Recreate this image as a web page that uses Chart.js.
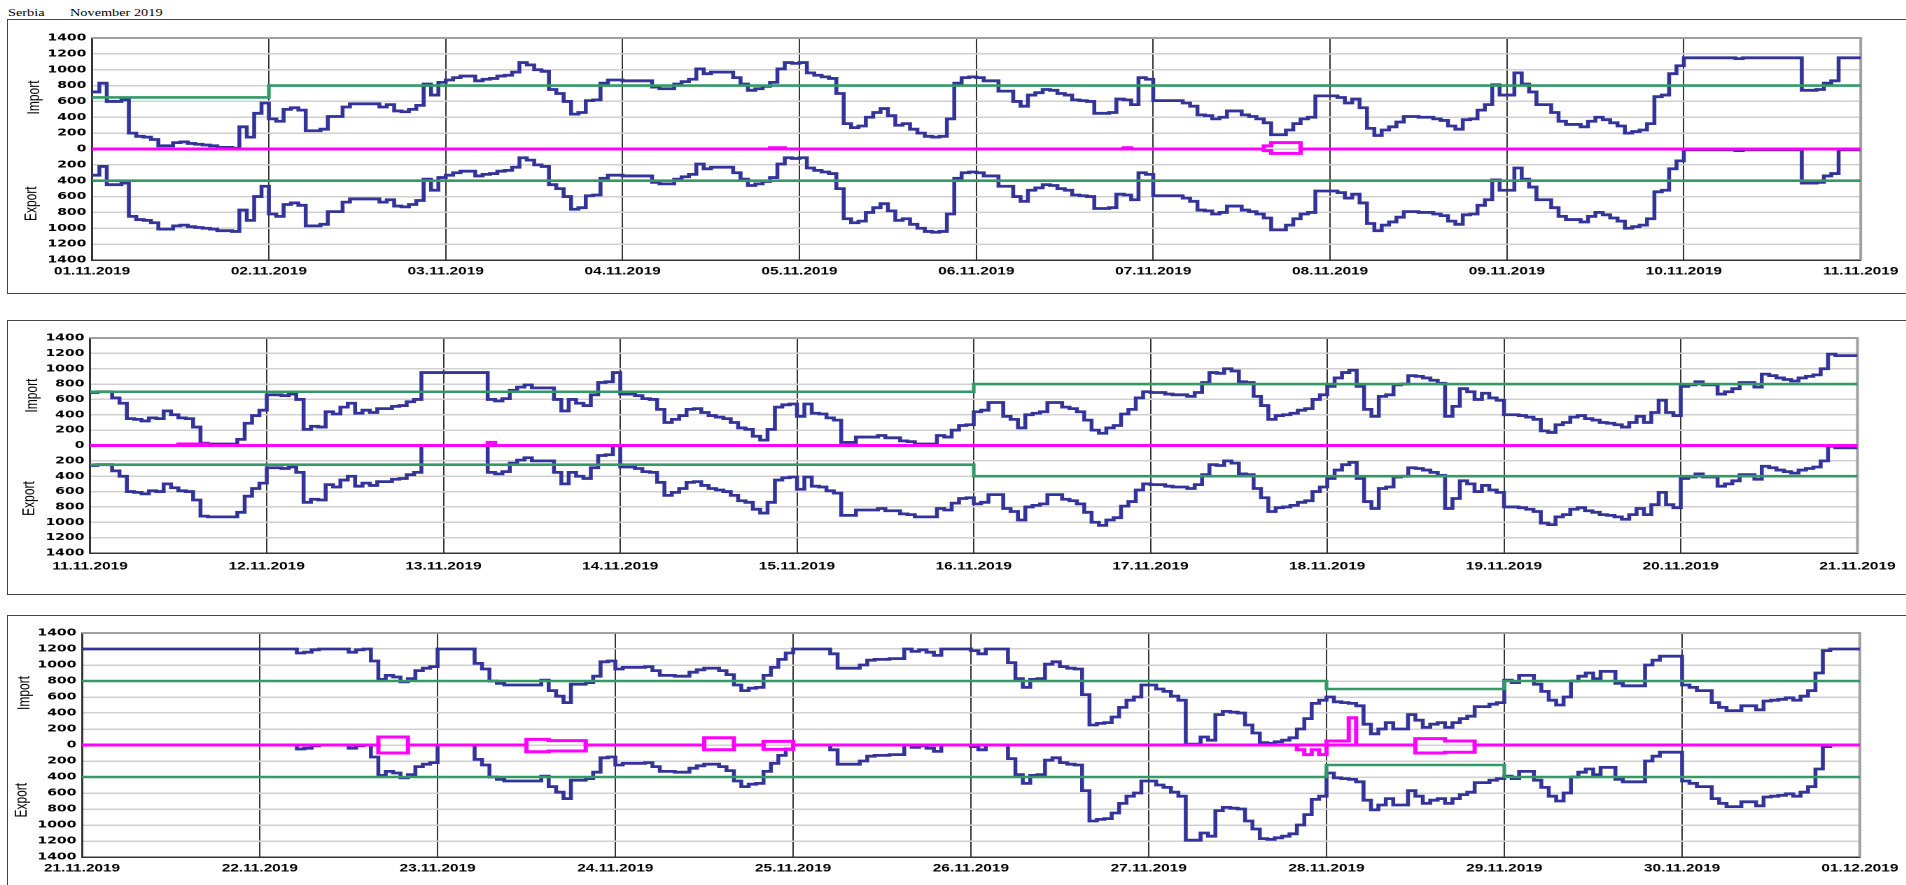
<!DOCTYPE html>
<html>
<head>
<meta charset="utf-8">
<script src="https://cdn.jsdelivr.net/npm/chart.js@4.4.0/dist/chart.umd.min.js"></script>
<style>
body{margin:0;background:#fff;overflow:hidden;width:1906px;height:885px;position:relative}
.box{position:absolute;left:7px;width:1910px;height:273px;border:1px solid #444}
.wrap{position:absolute;left:0;transform-origin:0 0}
.hdr{position:absolute;top:6px;font:11px "Liberation Serif",serif;transform-origin:0 0;transform:scaleX(1.3);white-space:nowrap}
</style>
</head>
<body>
<div class="hdr" style="left:8px">Serbia</div>
<div class="hdr" style="left:70px">November 2019</div>
<div class="box" style="top:19px"></div>
<div class="box" style="top:320px"></div>
<div class="box" style="top:615px"></div>
<div class="wrap" id="w1"><canvas id="c1"></canvas></div>
<div class="wrap" id="w2"><canvas id="c2"></canvas></div>
<div class="wrap" id="w3"><canvas id="c3"></canvas></div>
<script>
// tick labels (one per day boundary)
const days1 = ['01.11.2019','02.11.2019','03.11.2019','04.11.2019','05.11.2019','06.11.2019','07.11.2019','08.11.2019','09.11.2019','10.11.2019','11.11.2019'];
const days2 = ['11.11.2019','12.11.2019','13.11.2019','14.11.2019','15.11.2019','16.11.2019','17.11.2019','18.11.2019','19.11.2019','20.11.2019','21.11.2019'];
const days3 = ['21.11.2019','22.11.2019','23.11.2019','24.11.2019','25.11.2019','26.11.2019','27.11.2019','28.11.2019','29.11.2019','30.11.2019','01.12.2019'];

// hourly import (MW), 24 values per day
const imp1 = [
720,830,600,600,620,200,160,150,120,40,40,80,90,70,60,50,40,20,20,10,280,150,450,580,
380,350,500,520,490,230,230,250,410,410,530,570,570,570,570,530,560,480,470,500,550,820,680,840,
870,900,920,920,860,880,890,920,930,970,1090,1060,1000,980,750,700,600,440,460,610,620,830,870,870,
860,860,860,860,780,760,760,820,850,880,1010,950,970,970,970,900,820,740,760,790,840,1010,1090,1080,
1090,960,930,910,890,700,320,270,290,400,460,510,420,300,320,250,200,160,150,160,380,830,900,910,
900,860,860,730,730,600,540,680,710,750,740,700,680,620,610,600,450,450,460,630,620,560,900,880,
610,610,610,610,580,540,430,420,380,400,480,480,430,410,380,330,180,180,240,320,380,400,670,670,
670,650,580,630,520,260,170,240,280,340,410,410,400,400,380,360,290,250,370,380,490,560,810,680,
680,960,820,720,560,560,460,350,310,310,280,350,400,370,330,290,200,220,240,320,660,680,950,1050,
1150,1150,1150,1150,1150,1150,1150,1140,1150,1150,1150,1150,1150,1150,1150,1150,740,740,750,830,860,1150,1150,1150];
// hourly export (MW, drawn below zero)
const exp1 = [
-330,-220,-450,-450,-430,-850,-890,-900,-930,-1010,-1010,-970,-960,-980,-990,-1000,-1010,-1030,-1030,-1040,-770,-900,-600,-470,
-820,-850,-700,-680,-710,-970,-970,-950,-790,-790,-670,-630,-630,-630,-630,-670,-640,-720,-730,-700,-650,-380,-520,-360,
-330,-300,-280,-280,-340,-320,-310,-280,-270,-230,-110,-140,-200,-220,-450,-500,-600,-760,-740,-590,-580,-370,-330,-330,
-340,-340,-340,-340,-420,-440,-440,-380,-350,-320,-190,-250,-230,-230,-230,-300,-380,-460,-440,-410,-360,-190,-110,-120,
-110,-240,-270,-290,-310,-500,-880,-930,-910,-800,-740,-690,-780,-900,-880,-950,-1000,-1040,-1050,-1040,-820,-370,-300,-290,
-300,-340,-340,-470,-470,-600,-660,-520,-490,-450,-460,-500,-520,-580,-590,-600,-750,-750,-740,-570,-580,-640,-300,-320,
-590,-590,-590,-590,-620,-660,-770,-780,-820,-800,-720,-720,-770,-790,-820,-870,-1020,-1020,-960,-880,-820,-800,-530,-530,
-530,-550,-620,-570,-680,-940,-1030,-960,-920,-860,-790,-790,-800,-800,-820,-840,-910,-950,-830,-820,-710,-640,-390,-520,
-520,-240,-380,-480,-640,-640,-740,-850,-890,-890,-920,-850,-800,-830,-870,-910,-1000,-980,-960,-880,-540,-520,-250,-150,
-10,-10,-10,-10,-10,-10,-10,-20,-10,-10,-10,-10,-10,-10,-10,-10,-430,-430,-420,-340,-310,-10,-10,-10];

const imp2 = [
690,700,700,620,550,350,340,320,360,350,450,400,360,350,240,30,20,20,20,20,80,290,390,460,
660,660,650,670,600,210,250,240,440,410,500,550,420,460,430,480,480,510,520,570,600,950,950,950,
950,950,950,950,950,950,600,580,610,720,760,790,750,750,750,600,450,600,550,520,660,820,830,950,
670,670,650,610,600,470,300,340,390,470,480,430,390,370,350,300,230,210,120,70,210,500,530,540,
380,540,420,410,360,330,40,40,110,110,110,130,100,100,60,50,20,20,20,130,110,200,260,270,
440,460,560,560,380,340,230,400,420,440,560,560,500,480,440,330,200,160,230,260,410,470,620,700,
690,690,670,660,660,640,690,820,950,940,1000,970,830,820,640,520,340,390,400,420,460,480,600,660,
770,880,950,980,770,470,380,640,660,790,800,910,900,880,850,810,380,510,740,700,600,680,620,590,
400,400,390,370,340,190,170,270,300,370,390,350,330,300,290,270,240,300,380,300,430,590,430,390,
770,790,830,790,790,670,700,740,820,820,760,930,910,880,860,840,880,900,920,1000,1190,1170,1170,1170];
const exp2 = [
-260,-250,-250,-330,-400,-600,-610,-630,-590,-600,-500,-550,-590,-600,-710,-920,-930,-930,-930,-930,-870,-660,-560,-490,
-290,-290,-300,-280,-350,-740,-700,-710,-510,-540,-450,-400,-530,-490,-520,-470,-470,-440,-430,-380,-350,0,0,0,
0,0,0,0,0,0,-350,-370,-340,-230,-190,-160,-200,-200,-200,-350,-500,-350,-400,-430,-290,-130,-120,0,
-280,-280,-300,-340,-350,-480,-650,-610,-560,-480,-470,-520,-560,-580,-600,-650,-720,-740,-830,-880,-740,-450,-420,-410,
-570,-410,-530,-540,-590,-620,-910,-910,-840,-840,-840,-820,-850,-850,-890,-900,-930,-930,-930,-820,-840,-750,-690,-680,
-760,-740,-640,-640,-820,-860,-970,-800,-780,-760,-640,-640,-700,-720,-760,-870,-1000,-1040,-970,-940,-790,-730,-580,-500,
-510,-510,-530,-540,-540,-560,-510,-380,-250,-260,-200,-230,-370,-380,-560,-680,-860,-810,-800,-780,-740,-720,-600,-540,
-430,-320,-250,-220,-430,-730,-820,-560,-540,-410,-400,-290,-300,-320,-350,-390,-820,-690,-460,-500,-600,-520,-580,-610,
-800,-800,-810,-830,-860,-1010,-1030,-930,-900,-830,-810,-850,-870,-900,-910,-930,-960,-900,-820,-900,-770,-610,-770,-810,
-430,-410,-370,-410,-410,-530,-500,-460,-380,-380,-440,-270,-290,-320,-340,-360,-320,-300,-280,-200,-10,-30,-30,-30];

const imp3 = [
1200,1200,1200,1200,1200,1200,1200,1200,1200,1200,1200,1200,1200,1200,1200,1200,1200,1200,1200,1200,1200,1200,1200,1200,
1200,1200,1200,1200,1200,1150,1160,1190,1200,1200,1200,1200,1160,1190,1200,1050,820,870,850,790,830,930,960,980,
1200,1200,1200,1200,1200,1020,950,800,770,750,750,750,750,750,810,680,610,530,760,760,780,860,1040,1050,
950,970,970,970,980,930,870,870,860,860,910,940,960,960,930,880,750,680,710,720,870,970,1070,1150,
1200,1200,1200,1200,1200,1140,960,960,960,1000,1060,1070,1070,1080,1080,1200,1170,1190,1160,1120,1200,1200,1200,1200,
1180,1140,1200,1200,1200,1030,830,720,820,830,1010,1040,980,960,950,630,250,270,280,350,470,560,600,750,
750,700,670,610,560,10,10,100,60,380,420,410,400,250,150,30,20,40,60,90,200,330,520,560,
600,540,530,520,490,260,140,200,280,200,200,380,310,220,260,280,220,280,330,360,480,480,510,530,
810,780,870,870,760,670,560,500,600,800,860,900,830,920,920,770,740,740,740,1000,1060,1110,1110,1110,
750,720,680,680,530,470,430,430,490,490,440,550,560,570,590,560,610,680,900,1180,1200,1200,1200,1200];
const exp3 = [
0,0,0,0,0,0,0,0,0,0,0,0,0,0,0,0,0,0,0,0,0,0,0,0,
0,0,0,0,0,-50,-40,-10,0,0,0,0,-40,-10,0,-150,-380,-330,-350,-410,-370,-270,-240,-220,
0,0,0,0,0,-180,-250,-400,-430,-450,-450,-450,-450,-450,-390,-520,-590,-670,-440,-440,-420,-340,-160,-150,
-250,-230,-230,-230,-220,-270,-330,-330,-340,-340,-290,-260,-240,-240,-270,-320,-450,-520,-490,-480,-330,-230,-130,-50,
0,0,0,0,0,-60,-240,-240,-240,-200,-140,-130,-130,-120,-120,0,-30,-10,-40,-80,0,0,0,0,
-20,-60,0,0,0,-170,-370,-480,-380,-370,-190,-160,-220,-240,-250,-570,-950,-930,-920,-850,-730,-640,-600,-450,
-450,-500,-530,-590,-640,-1190,-1190,-1100,-1140,-820,-780,-790,-800,-950,-1050,-1170,-1180,-1160,-1140,-1110,-1000,-870,-680,-640,
-350,-410,-420,-430,-460,-690,-810,-750,-670,-750,-750,-570,-640,-730,-690,-670,-730,-670,-620,-590,-470,-470,-440,-420,
-390,-420,-330,-330,-440,-530,-640,-700,-600,-400,-340,-300,-370,-280,-280,-430,-460,-460,-460,-200,-140,-90,-90,-90,
-450,-480,-520,-520,-670,-730,-770,-770,-710,-710,-760,-650,-640,-630,-610,-640,-590,-520,-300,-20,0,0,0,0];

// daily capacity lines (green)
const ntcImp1 = [650,800,800,800,800,800,800,800,800,800];
const ntcExp1 = [-400,-400,-400,-400,-400,-400,-400,-400,-400,-400];
const ntcImp2 = [700,700,700,700,700,800,800,800,800,800];
const ntcExp2 = [-250,-250,-250,-250,-250,-400,-400,-400,-400,-400];
const ntcImp3 = [800,800,800,800,800,800,800,700,800,800];
const ntcExp3 = [-400,-400,-400,-400,-400,-400,-400,-250,-400,-400];

// magenta series, zero except these [hour, value] pairs
const magImp1 = [[92,15],[93,15],[140,15],[159,40],[160,80],[161,80],[162,80],[163,80]];
const magExp1 = [[159,-20],[160,-55],[161,-55],[162,-55],[163,-55]];
const magImp2 = [[12,20],[13,20],[14,20],[15,20],[54,40]];
const magExp2 = [];
const magImp3 = [[40,100],[41,100],[42,100],[43,100],[60,70],[61,70],[62,70],[63,55],[64,55],[65,55],[66,55],[67,55],
  [84,90],[85,90],[86,90],[87,90],[92,45],[93,45],[94,45],[95,45],[168,50],[169,50],[170,50],[171,340],
  [180,80],[181,80],[182,80],[183,80],[184,50],[185,50],[186,50],[187,50]];
const magExp3 = [[40,-100],[41,-100],[42,-100],[43,-100],[60,-85],[61,-85],[62,-85],[63,-75],[64,-75],[65,-75],[66,-75],[67,-75],
  [84,-60],[85,-60],[86,-60],[87,-60],[92,-55],[93,-55],[94,-55],[95,-55],[164,-60],[165,-120],[166,-60],[167,-120],
  [180,-100],[181,-100],[182,-100],[183,-100],[184,-90],[185,-90],[186,-90],[187,-90]];

const SX = 1.4;   // the picture is stretched sideways
const W = 1906, H = 274;

function hourly(arr) {
  const pts = arr.map((v, i) => ({x: i, y: v}));
  pts.push({x: arr.length, y: arr[arr.length - 1]});
  return pts;
}
function daily(arr) {
  const pts = arr.map((v, i) => ({x: i * 24, y: v}));
  pts.push({x: arr.length * 24, y: arr[arr.length - 1]});
  return pts;
}
function sparse(pairs) {
  const out = new Array(240).fill(0);
  pairs.forEach(p => { out[p[0]] = p[1]; });
  return hourly(out);
}

const frame = {
  id: 'frame',
  beforeDatasetsDraw(chart) {
    const {ctx, chartArea: a} = chart;
    ctx.save();
    ctx.strokeStyle = '#a0a0a0';
    ctx.lineWidth = 2;
    ctx.beginPath();
    ctx.moveTo(a.left, a.top);
    ctx.lineTo(a.right, a.top);
    ctx.lineTo(a.right, a.bottom);
    ctx.stroke();
    ctx.restore();
  },
  afterDraw(chart) {
    const {ctx, chartArea: a} = chart;
    const y = chart.scales.y;
    ctx.save();
    ctx.fillStyle = '#000';
    ctx.font = '12px "Liberation Sans"';
    ctx.textAlign = 'center';
    ctx.textBaseline = 'middle';
    [['Import', 650, 41], ['Export', -690, 43]].forEach(t => {
      ctx.save();
      ctx.translate(a.left - t[2], y.getPixelForValue(t[1]));
      ctx.rotate(-Math.PI / 2);
      ctx.fillText(t[0], 0, 0);
      ctx.restore();
    });
    ctx.restore();
  }
};

const panels = [
  {n: 1, top: 19, plotTop: 38, plotBottom: 260, left: 92, right: 1864, labPad: 5,
   labels: days1, imp: imp1, exp: exp1, ntcImp: ntcImp1, ntcExp: ntcExp1, magImp: magImp1, magExp: magExp1},
  {n: 2, top: 320, plotTop: 338, plotBottom: 553, left: 90, right: 1864, labPad: 7,
   labels: days2, imp: imp2, exp: exp2, ntcImp: ntcImp2, ntcExp: ntcExp2, magImp: magImp2, magExp: magExp2},
  {n: 3, top: 615, plotTop: 633, plotBottom: 857, left: 82, right: 1866, labPad: 5,
   labels: days3, imp: imp3, exp: exp3, ntcImp: ntcImp3, ntcExp: ntcExp3, magImp: magImp3, magExp: magExp3}
];

panels.forEach(p => {
  const wrap = document.getElementById('w' + p.n);
  const cw = Math.round(W / SX);
  wrap.style.top = p.top + 'px';
  wrap.style.width = cw + 'px';
  wrap.style.height = H + 'px';
  wrap.style.transform = 'scaleX(' + SX + ')';
  const cv = document.getElementById('c' + p.n);
  cv.width = cw;
  cv.height = H;

  const blue = '#333399', green = '#339966', pink = '#ff00ff';
  new Chart(cv.getContext('2d'), {
    type: 'line',
    data: {
      datasets: [
        {data: sparse(p.magImp), borderColor: pink, borderWidth: 3, order: 0},
        {data: sparse(p.magExp), borderColor: pink, borderWidth: 3, order: 0},
        {data: daily(p.ntcImp), borderColor: green, borderWidth: 2.6, order: 1},
        {data: daily(p.ntcExp), borderColor: green, borderWidth: 2.6, order: 1},
        {data: hourly(p.imp), borderColor: blue, borderWidth: 2.8, order: 2},
        {data: hourly(p.exp), borderColor: blue, borderWidth: 2.8, order: 2}
      ]
    },
    options: {
      responsive: false,
      animation: false,
      devicePixelRatio: 2,
      layout: {padding: {top: p.plotTop - p.top, right: (W - p.right) / SX, left: 0, bottom: 0}},
      elements: {point: {radius: 0}, line: {stepped: 'before', tension: 0, fill: false}},
      plugins: {legend: {display: false}, tooltip: {enabled: false}},
      scales: {
        x: {
          type: 'linear', min: 0, max: 240,
          ticks: {stepSize: 24, autoSkip: false, maxRotation: 0, padding: p.labPad, color: '#000',
                  font: {family: 'Liberation Sans', size: 11, weight: 'bold'},
                  callback: v => p.labels[v / 24]},
          grid: {color: '#333', lineWidth: 1, drawTicks: false},
          border: {color: '#333', width: 1.5},
          afterFit: s => { s.height = H - (p.plotBottom - p.top); }
        },
        y: {
          min: -1400, max: 1400,
          ticks: {stepSize: 200, padding: 4, color: '#000',
                  font: {family: 'DejaVu Sans', size: 10, weight: 'bold'},
                  callback: v => Math.abs(v)},
          grid: {color: '#d0d0d0', lineWidth: 1.5, drawTicks: false},
          border: {color: '#333', width: 1.5},
          afterFit: s => { s.width = p.left / SX; }
        }
      }
    },
    plugins: [frame]
  });
});
</script>
</body>
</html>
